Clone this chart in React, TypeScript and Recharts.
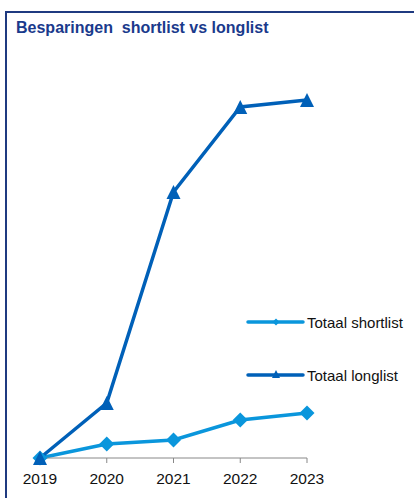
import { LineChart, Line, XAxis, YAxis } from "recharts";

const years = ["2019", "2020", "2021", "2022", "2023"];
const shortlist = [0, 14, 18, 38, 45];
const longlist = [0, 55, 266, 351, 358];
const seriesNames = ["Totaal shortlist", "Totaal longlist"];

const data = years.map((year, i) => ({
  year,
  shortlist: shortlist[i],
  longlist: longlist[i],
}));

const SHORT_COLOR = "#0a96dc";
const LONG_COLOR = "#0060b8";
const FONT = "'Liberation Sans', Arial, sans-serif";

function Diamond(props: any) {
  const { cx, cy, size = 7.5, fill } = props;
  if (cx == null || cy == null) return null;
  const r = size;
  return (
    <path
      d={`M${cx},${cy - r} L${cx + r},${cy} L${cx},${cy + r} L${cx - r},${cy} Z`}
      fill={fill}
    />
  );
}

function Triangle(props: any) {
  const { cx, cy, size = 7, fill } = props;
  if (cx == null || cy == null) return null;
  const s = size;
  return (
    <path
      d={`M${cx},${cy - s} L${cx + s},${cy + s} L${cx - s},${cy + s} Z`}
      fill={fill}
    />
  );
}

function LegendRow({ name, color, kind, top }: { name: string; color: string; kind: string; top: number }) {
  return (
    <div
      style={{
        position: "absolute",
        left: 246,
        top,
        display: "flex",
        alignItems: "center",
        height: 20,
        fontFamily: FONT,
        fontSize: 15,
        color: "#111",
        whiteSpace: "nowrap",
      }}
    >
      <svg width={60} height={14} style={{ marginRight: 1 }}>
        <line x1={2} y1={7} x2={57} y2={7} stroke={color} strokeWidth={3.5} strokeLinecap="round" />
        {kind === "diamond" ? (
          <Diamond cx={30} cy={7} size={3.5} fill={color} />
        ) : (
          <Triangle cx={30} cy={6} size={4} fill={color} />
        )}
      </svg>
      <span>{name}</span>
    </div>
  );
}

export default function App() {
  return (
    <div
      style={{
        position: "absolute",
        left: 0,
        top: 0,
        width: 414,
        height: 498,
        background: "#fff",
        overflow: "hidden",
      }}
    >
      <div
        style={{
          position: "absolute",
          left: 5,
          top: 11,
          width: 420,
          height: 500,
          borderTop: "2px solid #1f3a80",
          borderLeft: "2px solid #1f3a80",
          boxSizing: "border-box",
        }}
      />
      <div
        style={{
          position: "absolute",
          left: 16,
          top: 19,
          fontFamily: FONT,
          fontWeight: "bold",
          fontSize: 16,
          color: "#1a3a8c",
          whiteSpace: "pre",
        }}
      >
        {"Besparingen  shortlist vs longlist"}
      </div>
      <div style={{ position: "absolute", left: 0, top: 0 }}>
        <LineChart
          width={414}
          height={498}
          data={data}
          margin={{ top: 58, right: 107, bottom: 0, left: 40 }}
        >
          <XAxis
            dataKey="year"
            stroke="#888"
            tickSize={5}
            tickMargin={10}
            tick={{ fontSize: 15.5, fill: "#111", fontFamily: FONT }}
            height={40}
          />
          <YAxis hide domain={[0, 400]} width={0} />
          <Line
            dataKey="shortlist"
            name={seriesNames[0]}
            stroke={SHORT_COLOR}
            strokeWidth={3.5}
            dot={<Diamond fill={SHORT_COLOR} />}
            activeDot={false}
            isAnimationActive={false}
          />
          <Line
            dataKey="longlist"
            name={seriesNames[1]}
            stroke={LONG_COLOR}
            strokeWidth={3.5}
            dot={<Triangle fill={LONG_COLOR} />}
            activeDot={false}
            isAnimationActive={false}
          />
        </LineChart>
      </div>
      <LegendRow name={seriesNames[0]} color={SHORT_COLOR} kind="diamond" top={312} />
      <LegendRow name={seriesNames[1]} color={LONG_COLOR} kind="triangle" top={365} />
    </div>
  );
}
